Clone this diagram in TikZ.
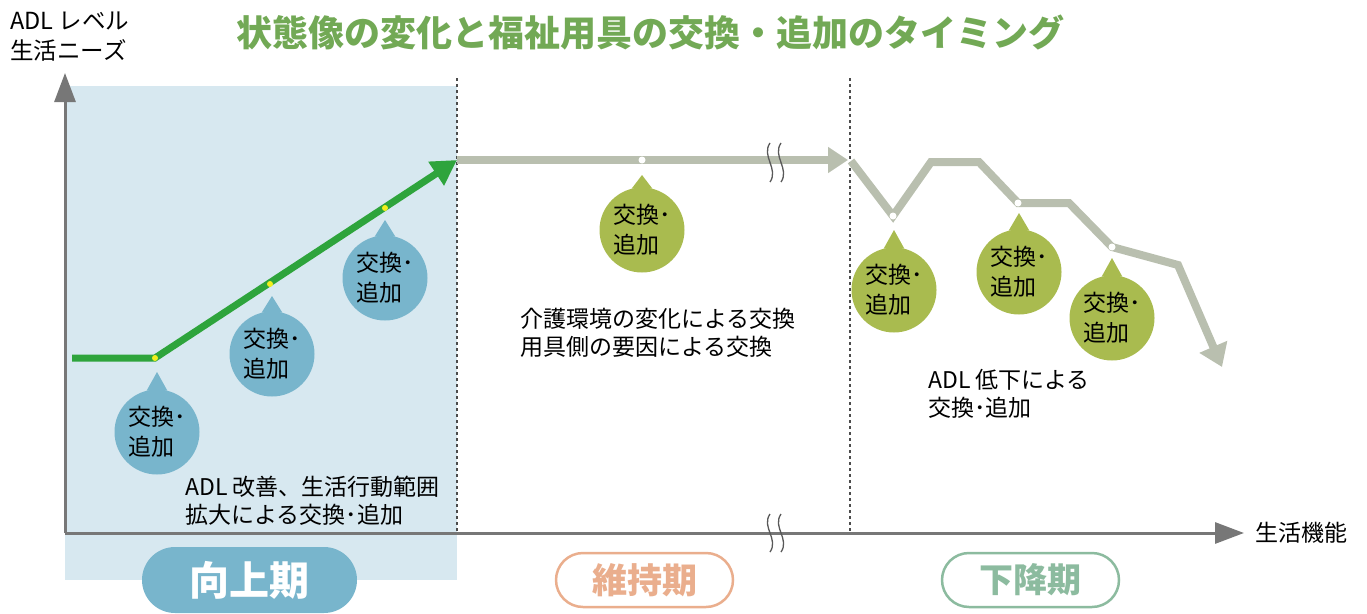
\documentclass[tikz,border=0pt]{standalone}
\usepackage{fontspec}
\setmainfont{Noto Sans CJK JP}
\usetikzlibrary{arrows.meta}

\definecolor{bgblue}{HTML}{D7E8F0}
\definecolor{axisgray}{HTML}{777777}
\definecolor{upgreen}{HTML}{2EA43C}
\definecolor{dotyellow}{HTML}{F2EE1C}
\definecolor{trendgray}{HTML}{B9BFAF}
\definecolor{bubblue}{HTML}{78B5CC}
\definecolor{bubolive}{HTML}{A9BB4F}
\definecolor{titlegreen}{HTML}{72A955}
\definecolor{peach}{HTML}{EAAE8D}
\definecolor{sage}{HTML}{8CBB9F}

\tikzset{
  axis/.style={line width=3pt, draw=axisgray, -{Triangle[length=29pt,width=21pt]}},
  phase/.style={draw=black!70, line width=1.2pt, dash pattern=on 3pt off 3pt},
  waveline/.style={draw=black!65, line width=1.3pt},
  upline/.style={line width=7pt, draw=upgreen},
  trend/.style={line width=8pt, draw=trendgray},
  bubble/.style={circle, inner sep=0pt, minimum size=85pt, align=left,
    font=\fontsize{23}{30}\selectfont},
  note/.style={anchor=north west, inner sep=0pt, align=left,
    font=\fontsize{23}{28}\selectfont},
  badge/.style={rounded corners=27pt, minimum width=177pt, minimum height=54pt,
    line width=2.5pt, inner sep=0pt},
}

\begin{document}
\begin{tikzpicture}[x=1pt, y=-1pt]
  \useasboundingbox (0,0) rectangle (1367,613);

  % Improvement period background
  \fill[bgblue] (65,86) rectangle (457,580);

  % Phase borders
  \draw[phase] (457,78) -- (457,533);
  \draw[phase] (850,78) -- (850,533);

  % Axes
  \coordinate (origin) at (65,533);
  \coordinate (ytop) at (65,73);
  \coordinate (xend) at (1244,533);
  \draw[axis] (origin) -- (ytop);
  \draw[axis] (origin) -- (xend);
  \node[anchor=north west, inner sep=0pt, align=left, font=\fontsize{23.5}{30}\selectfont]
    (ylabel) at (10,12) {ADL レベル\\生活ニーズ};
  \node[anchor=west, inner sep=0pt, font=\fontsize{23}{28}\selectfont]
    (xlabel) at (1255,533) {生活機能};

  % Title
  \node[text=titlegreen, font=\bfseries\fontsize{36}{36}\selectfont]
    (title) at (650,33) {状態像の変化と福祉用具の交換・追加のタイミング};

  % Rising line (improvement)
  \coordinate (u0) at (72,358);
  \coordinate (u1) at (155,358);
  \coordinate (u2) at (270,284);
  \coordinate (u3) at (385,208);
  \coordinate (uend) at (457,160);
  \draw[upline, -{Triangle[length=25pt,width=27pt]}] (u0) -- (u1) -- (uend);

  % Flat line (maintenance)
  \coordinate (m0) at (457,160);
  \coordinate (m1) at (642,160);
  \coordinate (mend) at (848,160);
  \draw[trend, -{Triangle[length=20pt,width=25pt]}] (m0) -- (mend);

  % Falling line (decline)
  \coordinate (d0) at (851,161);
  \coordinate (d1) at (893,216);
  \coordinate (d2) at (931,162);
  \coordinate (d3) at (979,162);
  \coordinate (d4) at (1018,203);
  \coordinate (d5) at (1069,203);
  \coordinate (d6) at (1112,247);
  \coordinate (d7) at (1178,265);
  \coordinate (dend) at (1222,367);
  \draw[trend, -{Triangle[length=22pt,width=29pt]}]
    (d0) -- (d1) -- (d2) -- (d3) -- (d4) -- (d5) -- (d6) -- (d7) -- (dend);

  % Break marks
  \foreach \dx in {0,11} {
    \draw[waveline] (770+\dx,143) .. controls (761+\dx,156) and (779+\dx,169) .. (770+\dx,182);
    \draw[waveline] (770+\dx,514) .. controls (761+\dx,527) and (779+\dx,539) .. (770+\dx,552);
  }

  % Timing dots
  \foreach \p in {u1,u2,u3}
    \fill[dotyellow] (\p) circle (3pt);
  \foreach \p in {m1,d1,d4,d6}
    \fill[white] (\p) circle (3.5pt);

  % Speech bubbles on the rising line
  \foreach \n/\x/\y/\t in {1/157/432/372, 2/272/354/296, 3/385/278/220} {
    \node[bubble, fill=bubblue] (up\n) at (\x,\y) {交換･\\追加};
    \coordinate (uptip\n) at (\x,\t);
    \fill[bubblue] (up\n.104) -- (uptip\n) -- (up\n.76) -- cycle;
  }

  % Speech bubbles on the flat and falling lines
  \foreach \n/\x/\y/\t in {1/642/230/175, 2/894/290/230, 3/1019/272/213, 4/1112/318/258} {
    \node[bubble, fill=bubolive] (ol\n) at (\x,\y) {交換･\\追加};
    \coordinate (oltip\n) at (\x,\t);
    \fill[bubolive] (ol\n.104) -- (oltip\n) -- (ol\n.76) -- cycle;
  }

  % Notes
  \node[note] (upnote) at (185,476) {ADL 改善、生活行動範囲\\拡大による交換･追加};
  \node[note] (keepnote) at (520,308) {介護環境の変化による交換\\用具側の要因による交換};
  \node[note] (downnote) at (928,369) {ADL 低下による\\交換･追加};

  % Period labels
  \node[badge, fill=bubblue, text=white, minimum width=215pt, minimum height=66pt,
    rounded corners=33pt, font=\bfseries\fontsize{40}{40}\selectfont]
    (upbadge) at (249.5,580) {向上期};
  \node[badge, draw=peach, fill=white, text=peach, font=\bfseries\fontsize{35}{35}\selectfont]
    (keepbadge) at (644.5,580) {維持期};
  \node[badge, draw=sage, fill=white, text=sage, font=\bfseries\fontsize{34}{34}\selectfont]
    (downbadge) at (1030.5,580) {下降期};

\end{tikzpicture}
\end{document}
